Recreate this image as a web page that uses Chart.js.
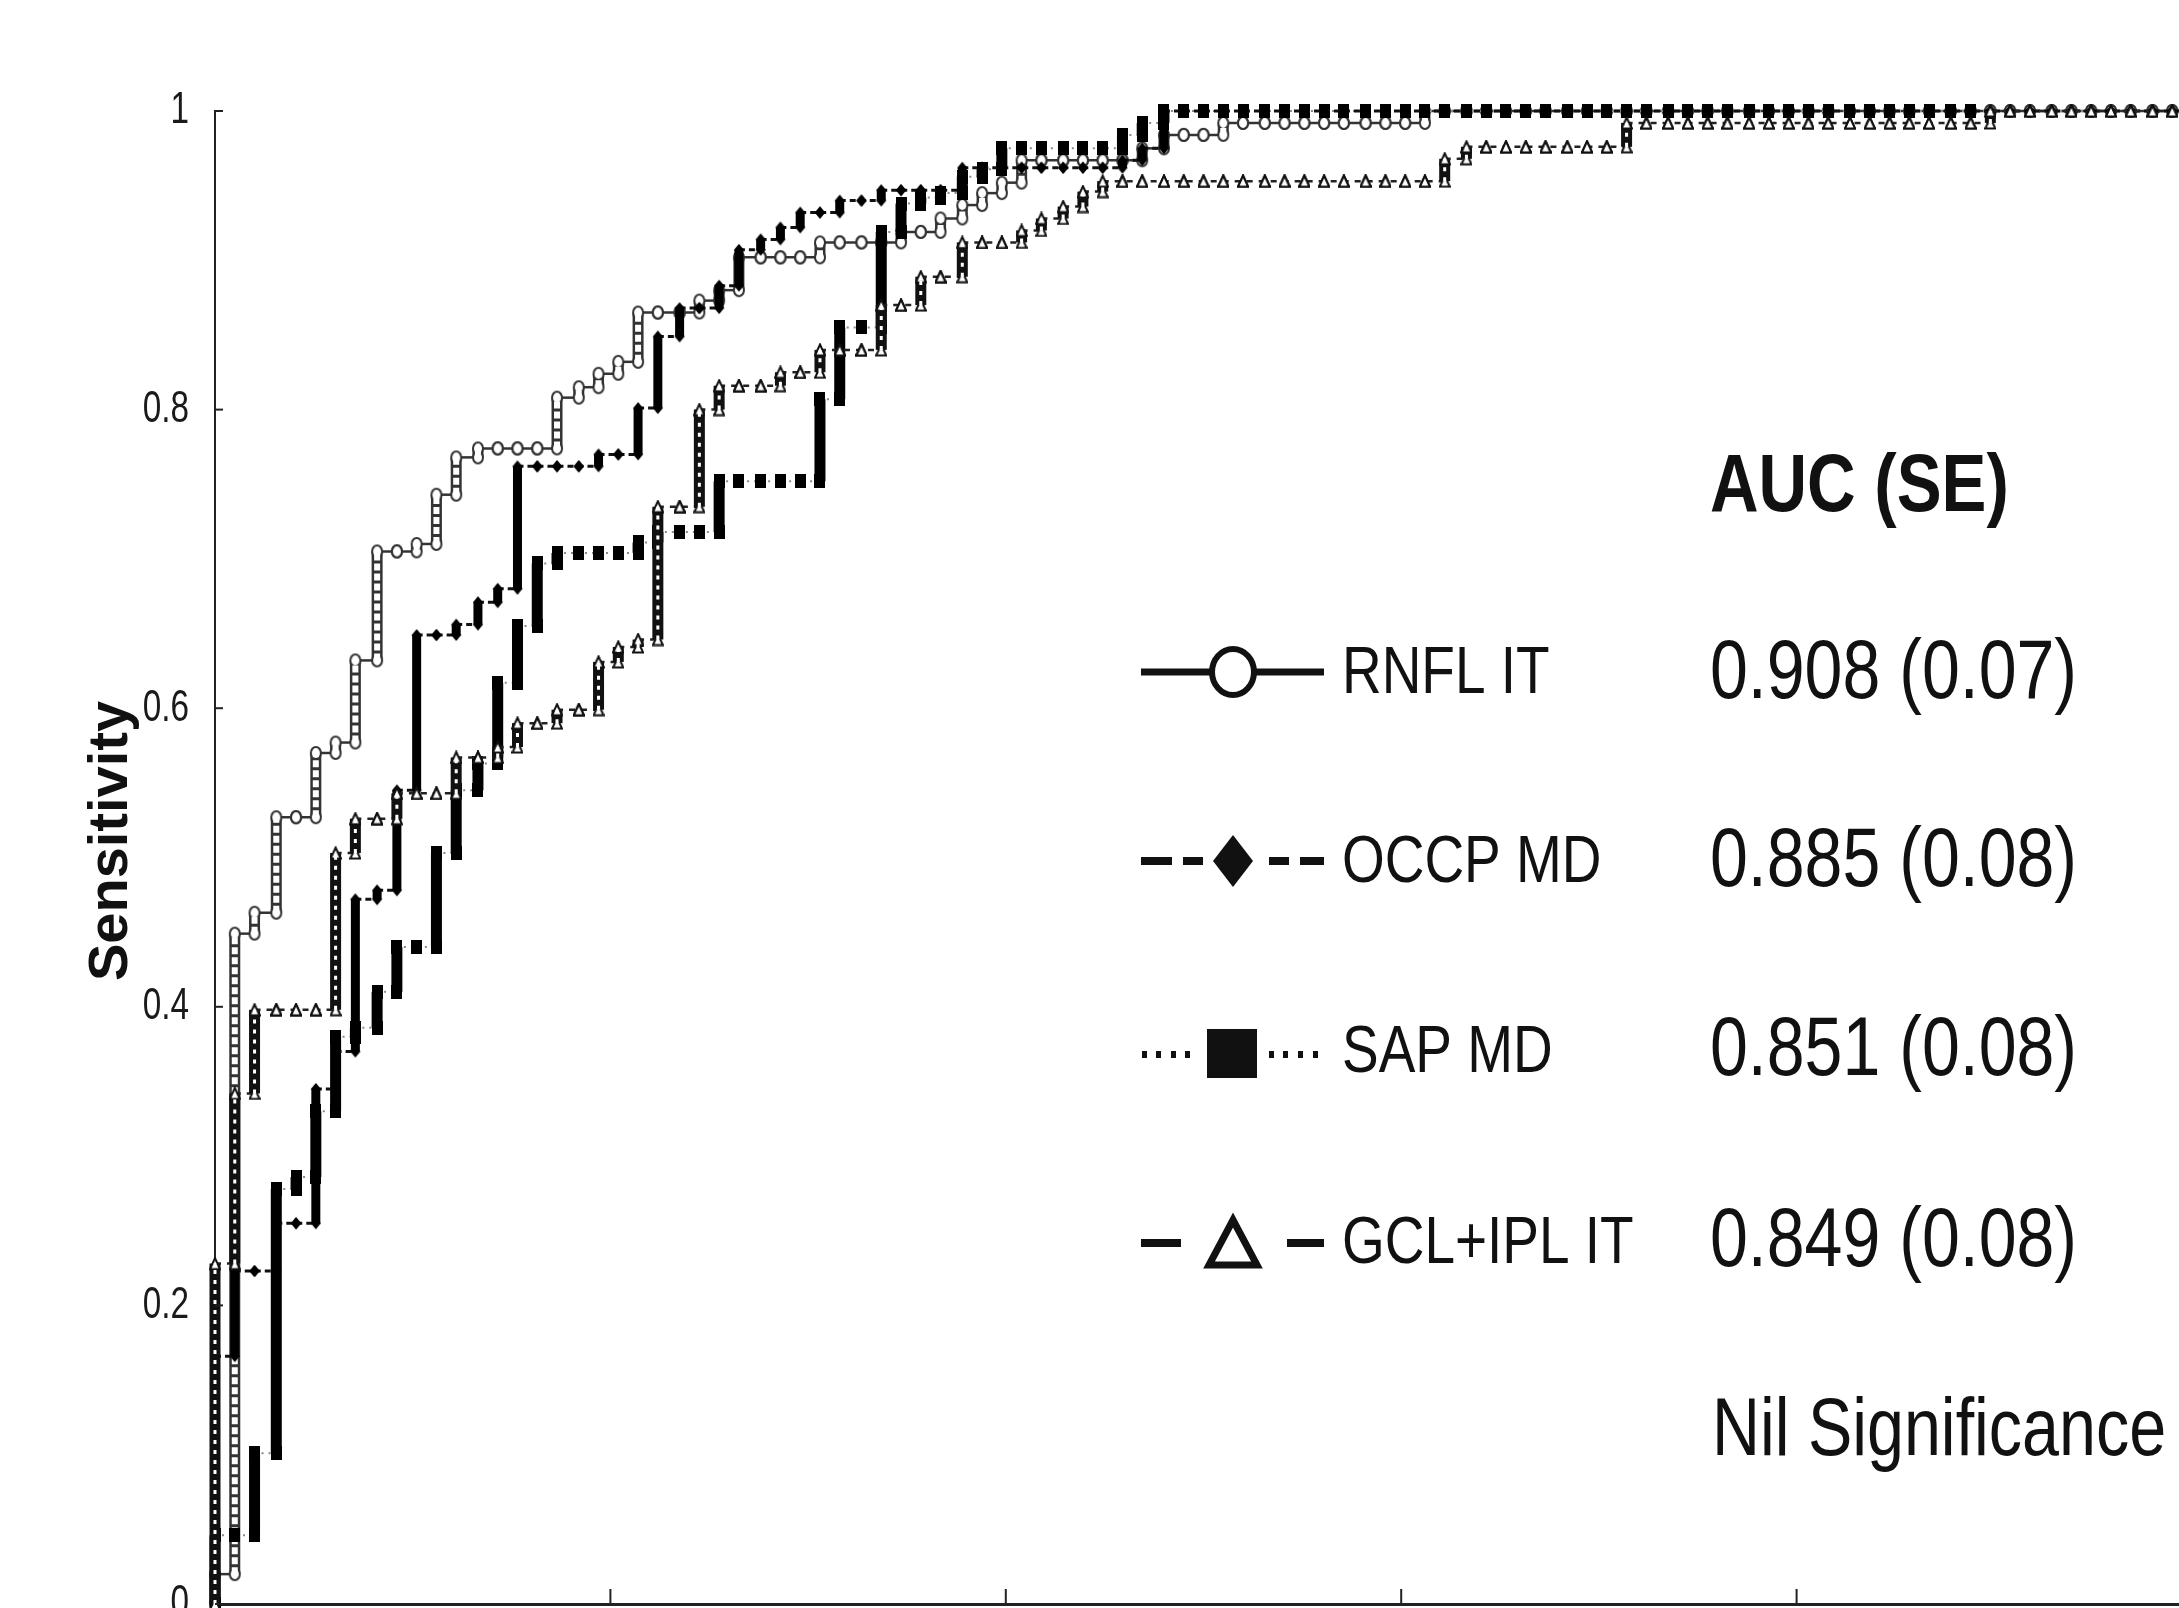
<!DOCTYPE html>
<html>
<head>
<meta charset="utf-8">
<title>ROC curves</title>
<script src="https://cdn.jsdelivr.net/npm/chart.js@4.4.1/dist/chart.umd.min.js"></script>
<style>
  html, body { margin: 0; padding: 0; background: #fff; overflow: hidden; }
  #wrap { position: relative; width: 2179px; height: 1608px; overflow: hidden; }
  canvas { display: block; }
</style>
</head>
<body>
<div id="wrap"><canvas id="roc" width="2200" height="1608"></canvas></div>
<script>
// ── Data ─────────────────────────────────────────────────
// false positive rate steps (1 - specificity), one per negative case
const fpr = [
  0, 0.010, 0.020, 0.031, 0.041, 0.051, 0.061, 0.071, 0.082, 0.092,
  0.102, 0.112, 0.122, 0.133, 0.143, 0.153, 0.163, 0.173, 0.184, 0.194,
  0.204, 0.214, 0.224, 0.235, 0.245, 0.255, 0.265, 0.276, 0.286, 0.296,
  0.306, 0.316, 0.327, 0.337, 0.347, 0.357, 0.367, 0.378, 0.388, 0.398,
  0.408, 0.418, 0.429, 0.439, 0.449, 0.459, 0.469, 0.480, 0.490, 0.500,
  0.510, 0.520, 0.531, 0.541, 0.551, 0.561, 0.571, 0.582, 0.592, 0.602,
  0.612, 0.622, 0.633, 0.643, 0.653, 0.663, 0.673, 0.684, 0.694, 0.704,
  0.714, 0.724, 0.735, 0.745, 0.755, 0.765, 0.776, 0.786, 0.796, 0.806,
  0.816, 0.827, 0.837, 0.847, 0.857, 0.867, 0.878, 0.888, 0.898, 0.908,
  0.918, 0.929, 0.939, 0.949, 0.959, 0.969, 0.980, 0.990, 1
];

// sensitivity reached at each fpr step
const tprRNFL = [
  0.020, 0.449, 0.463, 0.527, 0.527, 0.570, 0.577, 0.632, 0.705, 0.705,
  0.710, 0.743, 0.768, 0.774, 0.774, 0.774, 0.774, 0.808, 0.815, 0.824,
  0.832, 0.865, 0.865, 0.865, 0.873, 0.880, 0.902, 0.902, 0.902, 0.902,
  0.912, 0.912, 0.912, 0.912, 0.919, 0.919, 0.928, 0.937, 0.945, 0.952,
  0.967, 0.967, 0.967, 0.967, 0.967, 0.967, 0.975, 0.984, 0.984, 0.984,
  0.992, 0.992, 0.992, 0.992, 0.992, 0.992, 0.992, 0.992, 0.992, 0.992,
  1, 1, 1, 1, 1, 1, 1, 1, 1, 1,
  1, 1, 1, 1, 1, 1, 1, 1, 1, 1,
  1, 1, 1, 1, 1, 1, 1, 1, 1, 1,
  1, 1, 1, 1, 1, 1, 1, 1, 1
];

const tprOCCP = [
  0.166, 0.223, 0.223, 0.255, 0.255, 0.345, 0.370, 0.472, 0.478, 0.545,
  0.649, 0.649, 0.656, 0.671, 0.680, 0.762, 0.762, 0.762, 0.762, 0.770,
  0.770, 0.801, 0.849, 0.868, 0.868, 0.883, 0.907, 0.914, 0.922, 0.932,
  0.932, 0.940, 0.940, 0.947, 0.947, 0.947, 0.947, 0.962, 0.962, 0.962,
  0.962, 0.962, 0.962, 0.962, 0.962, 0.967, 0.975, 1, 1, 1,
  1, 1, 1, 1, 1, 1, 1, 1, 1, 1,
  1, 1, 1, 1, 1, 1, 1, 1, 1, 1,
  1, 1, 1, 1, 1, 1, 1, 1, 1, 1,
  1, 1, 1, 1, 1, 1, 1, 1, 1, 1,
  1, 1, 1, 1, 1, 1, 1, 1, 1
];

const tprSAP = [
  0.046, 0.046, 0.101, 0.278, 0.286, 0.330, 0.380, 0.386, 0.410, 0.440,
  0.440, 0.503, 0.545, 0.563, 0.617, 0.655, 0.697, 0.704, 0.704, 0.704,
  0.704, 0.711, 0.718, 0.718, 0.718, 0.752, 0.752, 0.752, 0.752, 0.752,
  0.807, 0.855, 0.855, 0.919, 0.938, 0.942, 0.945, 0.956, 0.961, 0.975,
  0.975, 0.975, 0.975, 0.975, 0.975, 0.984, 0.992, 1, 1, 1,
  1, 1, 1, 1, 1, 1, 1, 1, 1, 1,
  1, 1, 1, 1, 1, 1, 1, 1, 1, 1,
  1, 1, 1, 1, 1, 1, 1, 1, 1, 1,
  1, 1, 1, 1, 1, 1, 1, 1, null, null,
  null, null, null, null, null, null, null, null, 1
];

const tprGCL = [
  0.228, 0.342, 0.398, 0.398, 0.398, 0.398, 0.503, 0.526, 0.526, 0.543,
  0.543, 0.543, 0.567, 0.567, 0.574, 0.590, 0.590, 0.599, 0.599, 0.631,
  0.641, 0.646, 0.735, 0.735, 0.800, 0.816, 0.816, 0.816, 0.825, 0.825,
  0.840, 0.840, 0.840, 0.870, 0.870, 0.889, 0.889, 0.912, 0.912, 0.912,
  0.920, 0.928, 0.936, 0.946, 0.953, 0.953, 0.953, 0.953, 0.953, 0.953,
  0.953, 0.953, 0.953, 0.953, 0.953, 0.953, 0.953, 0.953, 0.953, 0.953,
  0.953, 0.968, 0.976, 0.976, 0.976, 0.976, 0.976, 0.976, 0.976, 0.976,
  0.992, 0.992, 0.992, 0.992, 0.992, 0.992, 0.992, 0.992, 0.992, 0.992,
  0.992, 0.992, 0.992, 0.992, 0.992, 0.992, 0.992, 0.992, 1, 1,
  1, 1, 1, 1, 1, 1, 1, 1, 1
];

const seriesNames = ["RNFL IT", "OCCP MD", "SAP MD", "GCL+IPL IT"];
const aucText = ["0.908 (0.07)", "0.885 (0.08)", "0.851 (0.08)", "0.849 (0.08)"];
const aucTitle = "AUC (SE)";
const noteText = "Nil Significance";
const yTitle = "Sensitivity";
const yTickValues = [0, 0.2, 0.4, 0.6, 0.8, 1];
const yTickLabels = ["0", "0.2", "0.4", "0.6", "0.8", "1"];
const xTickValues = [0, 0.2, 0.4, 0.6, 0.8, 1];

const SANS = "'Liberation Sans', Arial, sans-serif";
const SQUEEZE = 0.82; // the figure's lettering is condensed (Arial Narrow look)

// ── Helpers ─────────────────────────────────────────────
// ROC staircase: rise at each fpr step, then move right
function stepPoints(tpr) {
  const pts = [{ x: 0, y: 0 }];
  let prev = 0;
  tpr.forEach((v, k) => {
    if (v === null) return;
    pts.push({ x: fpr[k], y: prev });
    pts.push({ x: fpr[k], y: v });
    prev = v;
  });
  return pts;
}

const isRise = (c) => Math.abs(c.p0.x - c.p1.x) < 0.5 && Math.abs(c.p0.y - c.p1.y) > 0.5;

function narrowText(g, text, x, y, size, weight, align, baseline, squeeze) {
  g.save();
  g.font = `${weight} ${size}px ${SANS}`;
  g.textAlign = align || "left";
  g.textBaseline = baseline || "alphabetic";
  g.translate(x, y);
  g.scale(squeeze || SQUEEZE, 1);
  g.fillText(text, 0, 0);
  g.restore();
}

function marker(w, h, paint) {
  const c = document.createElement("canvas");
  c.width = w;
  c.height = h;
  paint(c.getContext("2d"), w, h);
  return c;
}

const circleMark = marker(14, 16, (g, w, h) => {
  g.beginPath();
  g.ellipse(w / 2, h / 2, 5, 6, 0, 0, Math.PI * 2);
  g.fillStyle = "#fff";
  g.fill();
  g.lineWidth = 2;
  g.strokeStyle = "#333";
  g.stroke();
});
const diamondMark = marker(12, 14, (g) => {
  g.beginPath();
  g.moveTo(6, 1); g.lineTo(11, 7); g.lineTo(6, 13); g.lineTo(1, 7);
  g.closePath();
  g.fillStyle = "#000";
  g.fill();
});
const squareMark = marker(11, 14, (g, w, h) => {
  g.fillStyle = "#000";
  g.fillRect(0, 0, w, h);
});
const triangleMark = marker(12, 14, (g) => {
  g.beginPath();
  g.moveTo(6, 1.5); g.lineTo(11, 12.5); g.lineTo(1, 12.5);
  g.closePath();
  g.fillStyle = "#fff";
  g.fill();
  g.lineWidth = 2;
  g.strokeStyle = "#111";
  g.stroke();
});

function series(label, tpr, mark, flat, rise, order) {
  return {
    label,
    data: stepPoints(tpr),
    order,
    clip: false,
    fill: false,
    tension: 0,
    pointStyle: mark,
    pointRadius: 6,
    pointHoverRadius: 6,
    borderColor: flat.color,
    borderWidth: flat.width,
    borderCapStyle: "butt",
    segment: {
      borderWidth: (c) => (isRise(c) ? rise.width : flat.width),
      borderColor: (c) => (isRise(c) ? rise.color : flat.color),
      borderDash: (c) => (isRise(c) ? [] : flat.dash),
    },
  };
}

// white gaps drawn over the stacked-marker columns
function holes(tpr, width, dash, order) {
  return {
    label: "",
    data: stepPoints(tpr),
    order,
    clip: false,
    pointRadius: 0,
    borderWidth: width,
    borderCapStyle: "butt",
    segment: {
      borderColor: (c) => (isRise(c) ? "#fff" : "rgba(0,0,0,0)"),
      borderDash: () => dash,
    },
  };
}

// ── Plugins ─────────────────────────────────────────────
const axisDressing = {
  id: "axisDressing",
  afterDraw(chart) {
    const { ctx: g, chartArea: a } = chart;
    const { x, y } = chart.scales;
    g.save();
    g.strokeStyle = "#222";
    g.fillStyle = "#1a1a1a";
    g.lineWidth = 2;
    // inward tick marks
    y.ticks.forEach((t) => {
      const py = y.getPixelForValue(t.value);
      g.beginPath(); g.moveTo(a.left, py); g.lineTo(a.left + 8, py); g.stroke();
    });
    x.ticks.forEach((t) => {
      if (t.value === 0) return;
      const px = x.getPixelForValue(t.value);
      g.beginPath(); g.moveTo(px, a.bottom); g.lineTo(px, a.bottom - 15); g.stroke();
    });
    // y tick labels
    yTickValues.forEach((v, i) => {
      narrowText(g, yTickLabels[i], a.left - 26, y.getPixelForValue(v), 45, "normal", "right", "middle", 0.74);
    });
    // y axis title
    g.translate(127, 841);
    g.rotate(-Math.PI / 2);
    g.fillStyle = "#111";
    g.font = `bold 56px ${SANS}`;
    g.textAlign = "center";
    g.textBaseline = "alphabetic";
    g.fillText(yTitle, 0, 0);
    g.restore();
  },
};

const sideLegend = {
  id: "sideLegend",
  afterDraw(chart) {
    const g = chart.ctx;
    g.save();
    g.fillStyle = "#111";
    g.strokeStyle = "#111";

    narrowText(g, aucTitle, 1710, 511, 82, "bold");

    const lineY = [672, 861, 1054, 1243];
    const cx = 1233;
    const seg = (x0, x1, y, w) => {
      g.lineWidth = w;
      g.beginPath(); g.moveTo(x0, y); g.lineTo(x1, y); g.stroke();
    };

    // RNFL: solid line, open circle
    let cy = lineY[0];
    seg(1141, 1324, cy, 7);
    g.beginPath();
    g.ellipse(cx, cy, 21, 23, 0, 0, Math.PI * 2);
    g.fillStyle = "#fff"; g.fill();
    g.lineWidth = 6; g.stroke();
    g.fillStyle = "#111";

    // OCCP: dashes, filled diamond
    cy = lineY[1];
    [[1141, 1172], [1183, 1203], [1269, 1289], [1300, 1324]].forEach(([a, b]) => seg(a, b, cy, 8));
    g.beginPath();
    g.moveTo(cx, cy - 26); g.lineTo(cx + 20, cy); g.lineTo(cx, cy + 26); g.lineTo(cx - 20, cy);
    g.closePath(); g.fill();

    // SAP: dots, filled square
    cy = lineY[2];
    [1145, 1159, 1174, 1188, 1272, 1286, 1301, 1316].forEach((dx) => g.fillRect(dx - 3, cy - 3, 5, 7));
    g.fillRect(1207, 1029, 50, 49);

    // GCL: long dashes, open triangle
    cy = lineY[3];
    seg(1141, 1181, cy, 8);
    seg(1287, 1324, cy, 8);
    g.beginPath();
    g.moveTo(cx, 1220); g.lineTo(cx + 24, 1265); g.lineTo(cx - 24, 1265);
    g.closePath();
    g.fillStyle = "#fff"; g.fill();
    g.lineWidth = 7; g.lineJoin = "miter"; g.stroke();
    g.fillStyle = "#111";

    const labelBase = [693, 882, 1072, 1263];
    const valueBase = [698, 886, 1075, 1266];
    seriesNames.forEach((name, i) => {
      narrowText(g, name, 1342, labelBase[i], 67, "normal");
      narrowText(g, aucText[i], 1710, valueBase[i], 83, "normal");
    });
    narrowText(g, noteText, 1712, 1455, 81, "normal");
    g.restore();
  },
};

// ── Chart ───────────────────────────────────────────────
const datasets = [
  holes(tprGCL, 3, [4, 6], 0),
  series("GCL+IPL IT", tprGCL, triangleMark, { color: "#222", width: 2.5, dash: [6, 6] }, { color: "#111", width: 11 }, 1),
  series("OCCP MD", tprOCCP, diamondMark, { color: "#111", width: 3, dash: [6, 4] }, { color: "#000", width: 9 }, 2),
  series("SAP MD", tprSAP, squareMark, { color: "#8a8a8a", width: 2, dash: [2, 5] }, { color: "#000", width: 11 }, 3),
  holes(tprRNFL, 6, [7, 3], 4),
  series("RNFL IT", tprRNFL, circleMark, { color: "#333", width: 2.5, dash: [] }, { color: "#333", width: 11 }, 5),
];

new Chart(document.getElementById("roc"), {
  type: "line",
  data: { datasets },
  options: {
    responsive: false,
    animation: false,
    events: [],
    devicePixelRatio: 1,
    layout: { padding: { top: 111, right: 8, bottom: 0, left: 0 }, autoPadding: false },
    plugins: { legend: { display: false }, tooltip: { enabled: false } },
    scales: {
      x: {
        type: "linear",
        min: 0,
        max: 1,
        afterBuildTicks: (s) => { s.ticks = xTickValues.map((v) => ({ value: v })); },
        ticks: { display: false },
        grid: { display: false, drawTicks: false },
        border: { display: true, color: "#222", width: 3 },
        afterFit: (s) => { s.height = 4; },
      },
      y: {
        type: "linear",
        min: 0,
        max: 1,
        afterBuildTicks: (s) => { s.ticks = yTickValues.map((v) => ({ value: v })); },
        ticks: { display: false },
        grid: { display: false, drawTicks: false },
        border: { display: true, color: "#222", width: 2 },
        afterFit: (s) => { s.width = 215; },
      },
    },
  },
  plugins: [axisDressing, sideLegend],
});
</script>
</body>
</html>
